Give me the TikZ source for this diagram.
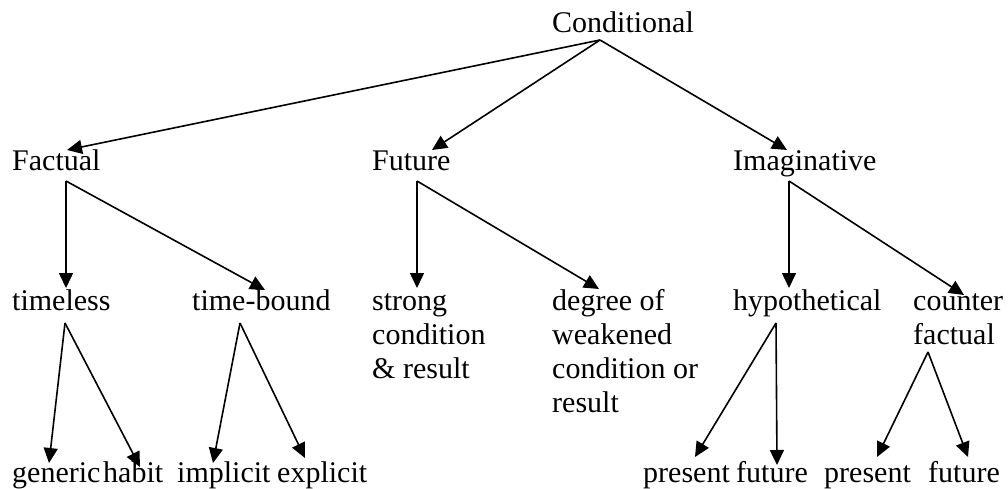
\documentclass[tikz,border=0pt]{standalone}
\usepackage{fontspec}
\setmainfont{Liberation Serif}
\usetikzlibrary{arrows.meta}
\begin{document}
\begin{tikzpicture}[x=1pt,y=-1pt,
  lbl/.style={anchor=base west,inner sep=0pt,align=left,font=\fontsize{30}{34}\selectfont},
  arr/.style={line width=1.6pt,-{Triangle[length=15pt,width=14pt]}}]
\useasboundingbox (0,0) rectangle (1008,489);
\node[lbl] (cond) at (552,33) {Conditional};
\node[lbl] (fact) at (12,171) {Factual};
\node[lbl] (fut) at (372,171) {Future};
\node[lbl] (imag) at (733,171) {Imaginative};
\node[lbl] (tl) at (12,310) {timeless};
\node[lbl] (tb) at (192,310) {time-bound};
\node[lbl] (str) at (372,378) {strong\\condition\\\& result};
\node[lbl] (deg) at (552,412) {degree of\\weakened\\condition or\\result};
\node[lbl] (hyp) at (733,310) {hypothetical};
\node[lbl] (cf) at (913,344) {counter\\factual};
\node[lbl] (gen) at (12,482) {generic};
\node[lbl] (hab) at (103,482) {habit};
\node[lbl] (imp) at (177,482) {implicit};
\node[lbl] (exp) at (277,482) {explicit};
\node[lbl] (pr1) at (643,482) {present};
\node[lbl] (fu1) at (736,482) {future};
\node[lbl] (pr2) at (824,482) {present};
\node[lbl] (fu2) at (928,482) {future};
% level 1
\draw[arr] ([shift={(48,7)}]cond.base west) -- ([shift={(55,-21)}]fact.base west);
\draw[arr] ([shift={(48,7)}]cond.base west) -- ([shift={(60,-21)}]fut.base west);
\draw[arr] ([shift={(48,7)}]cond.base west) -- ([shift={(54,-21)}]imag.base west);
% level 2
\draw[arr] ([shift={(54,10)}]fact.base west) -- ([shift={(54,-22)}]tl.base west);
\draw[arr] ([shift={(54,10)}]fact.base west) -- ([shift={(73,-20)}]tb.base west);
\draw[arr] ([shift={(45,10)}]fut.base west) -- ([shift={(45,-90)}]str.base west);
\draw[arr] ([shift={(45,10)}]fut.base west) -- ([shift={(47,-123)}]deg.base west);
\draw[arr] ([shift={(56,10)}]imag.base west) -- ([shift={(56,-22)}]hyp.base west);
\draw[arr] ([shift={(56,10)}]imag.base west) -- ([shift={(51,-49)}]cf.base west);
% level 3
\draw[arr] ([shift={(53,13)}]tl.base west) -- ([shift={(37,-19)}]gen.base west);
\draw[arr] ([shift={(53,13)}]tl.base west) -- ([shift={(37,-15)}]hab.base west);
\draw[arr] ([shift={(48,13)}]tb.base west) -- ([shift={(36,-19)}]imp.base west);
\draw[arr] ([shift={(48,13)}]tb.base west) -- ([shift={(28,-24)}]exp.base west);
\draw[arr] ([shift={(43,13)}]hyp.base west) -- ([shift={(52,-25)}]pr1.base west);
\draw[arr] ([shift={(43,13)}]hyp.base west) -- ([shift={(41,-17)}]fu1.base west);
\draw[arr] ([shift={(15,8)}]cf.base west) -- ([shift={(53,-25)}]pr2.base west);
\draw[arr] ([shift={(15,8)}]cf.base west) -- ([shift={(40,-25)}]fu2.base west);
\end{tikzpicture}
\end{document}
